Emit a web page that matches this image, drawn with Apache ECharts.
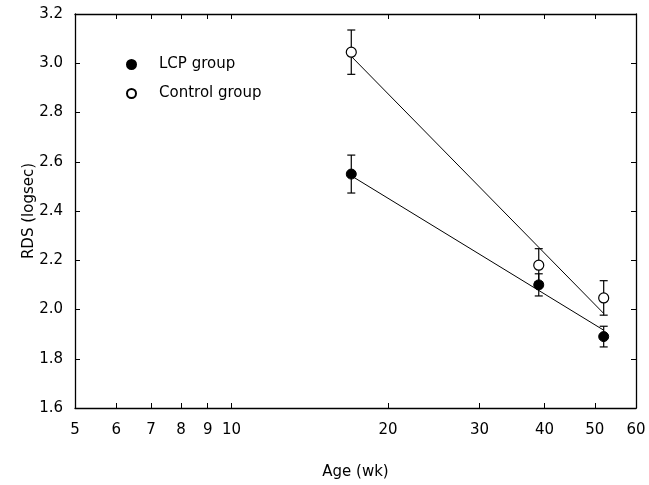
<!DOCTYPE html>
<html>
<head>
<meta charset="utf-8">
<script src="https://cdn.jsdelivr.net/npm/echarts@6/dist/echarts.min.js"></script>
<style>
  html, body { margin: 0; padding: 0; background: #fff; }
  #chartContainer { width: 649px; height: 485px; }
</style>
</head>
<body>
<div id="chartContainer"></div>
<script>
var ages = [17, 39, 52];
var lcpMean = [2.55, 2.10, 1.89];
var lcpErr = [0.077, 0.045, 0.042];
var controlMean = [3.045, 2.18, 2.047];
var controlErr = [0.09, 0.067, 0.07];
var fitAges = [17, 52];
var lcpFit = [2.543, 1.916];
var controlFit = [3.028, 1.984];
var xTicks = [5, 6, 7, 8, 9, 10, 20, 30, 40, 50, 60];

var FONT = 'DejaVu Sans';
var lg = function (v) { return Math.log10(v); };
var tickPos = xTicks.map(lg);

function points(xs, ys) {
  return xs.map(function (x, i) { return [lg(x), ys[i]]; });
}
function bars(xs, ys, es) {
  return xs.map(function (x, i) { return [lg(x), ys[i] - es[i], ys[i] + es[i]]; });
}

function renderErrorBar(params, api) {
  var x = api.value(0);
  var lo = api.coord([x, api.value(1)]);
  var hi = api.coord([x, api.value(2)]);
  var w = 4;
  var style = { stroke: '#000', lineWidth: 1.2 };
  return {
    type: 'group',
    children: [
      { type: 'line', shape: { x1: lo[0], y1: lo[1], x2: hi[0], y2: hi[1] }, style: style },
      { type: 'line', shape: { x1: hi[0] - w, y1: hi[1], x2: hi[0] + w, y2: hi[1] }, style: style },
      { type: 'line', shape: { x1: lo[0] - w, y1: lo[1], x2: lo[0] + w, y2: lo[1] }, style: style }
    ]
  };
}

var chart = echarts.init(document.getElementById('chartContainer'));

var axisLine = { show: true, lineStyle: { color: '#000', width: 1.3 } };
var tick = { show: true, inside: true, length: 5, lineStyle: { color: '#000' } };

chart.setOption({
  animation: false,
  textStyle: { fontFamily: FONT },
  grid: { left: 75, right: 13, top: 14, bottom: 75 },
  legend: {
    orient: 'vertical',
    left: 121,
    top: 52,
    itemWidth: 9,
    itemHeight: 9,
    itemGap: 14,
    data: ['LCP group', 'Control group'],
    textStyle: { fontFamily: FONT, fontSize: 15, color: '#000', padding: [0, 0, 0, 18] }
  },
  xAxis: [{
    type: 'value',
    min: lg(5),
    max: lg(60),
    name: 'Age (wk)',
    nameLocation: 'middle',
    nameGap: 57,
    nameTextStyle: { fontFamily: FONT, fontSize: 15, color: '#000' },
    axisLine: axisLine,
    axisTick: Object.assign({ customValues: tickPos }, tick),
    splitLine: { show: false },
    axisLabel: {
      customValues: tickPos,
      margin: 15,
      fontSize: 15,
      color: '#000',
      formatter: function (v) { return Math.round(Math.pow(10, v)); }
    }
  }, {
    type: 'value',
    position: 'top',
    min: lg(5),
    max: lg(60),
    axisLine: axisLine,
    axisTick: Object.assign({ customValues: tickPos }, tick),
    splitLine: { show: false },
    axisLabel: { show: false }
  }],
  yAxis: [{
    type: 'value',
    min: 1.6,
    max: 3.2,
    interval: 0.2,
    name: 'RDS (logsec)',
    nameLocation: 'middle',
    nameGap: 38,
    nameMoveOverlap: false,
    nameTextStyle: { fontFamily: FONT, fontSize: 15, color: '#000' },
    axisLine: axisLine,
    axisTick: tick,
    splitLine: { show: false },
    axisLabel: {
      margin: 12,
      fontSize: 15,
      color: '#000',
      formatter: function (v) { return v.toFixed(1); }
    }
  }, {
    type: 'value',
    position: 'right',
    min: 1.6,
    max: 3.2,
    interval: 0.2,
    axisLine: axisLine,
    axisTick: tick,
    splitLine: { show: false },
    axisLabel: { show: false }
  }],
  series: [{
    type: 'line',
    data: points(fitAges, lcpFit),
    symbol: 'none',
    lineStyle: { color: '#000', width: 1 },
    silent: true,
    z: 1
  }, {
    type: 'line',
    data: points(fitAges, controlFit),
    symbol: 'none',
    lineStyle: { color: '#000', width: 1 },
    silent: true,
    z: 1
  }, {
    type: 'custom',
    renderItem: renderErrorBar,
    data: bars(ages, lcpMean, lcpErr),
    encode: { x: 0, y: [1, 2] },
    z: 2
  }, {
    type: 'custom',
    renderItem: renderErrorBar,
    data: bars(ages, controlMean, controlErr),
    encode: { x: 0, y: [1, 2] },
    z: 2
  }, {
    name: 'LCP group',
    type: 'scatter',
    data: points(ages, lcpMean),
    symbol: 'circle',
    symbolSize: 10,
    itemStyle: { color: '#000', borderColor: '#000', borderWidth: 1, opacity: 1 },
    z: 3
  }, {
    name: 'Control group',
    type: 'scatter',
    data: points(ages, controlMean),
    symbol: 'circle',
    symbolSize: 10,
    itemStyle: { color: '#fff', borderColor: '#000', borderWidth: 1.2, opacity: 1 },
    z: 3
  }]
});

window.addEventListener('resize', function () {
  chart.resize();
});
</script>
</body>
</html>
